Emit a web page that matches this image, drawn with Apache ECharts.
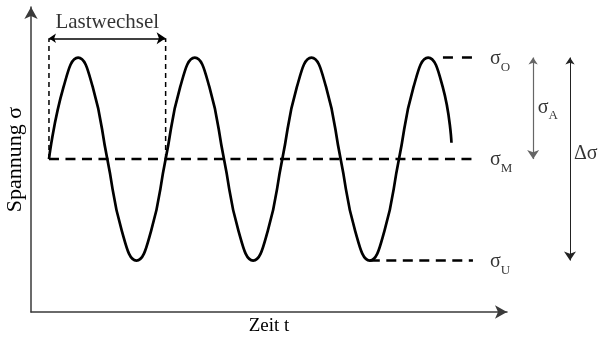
<!DOCTYPE html>
<html>
<head>
<meta charset="utf-8">
<script src="https://cdn.jsdelivr.net/npm/echarts@6/dist/echarts.min.js"></script>
<style>
html,body{margin:0;padding:0;background:#fff;}
#c{width:601px;height:339px;}
</style>
</head>
<body>
<div id="c"></div>
<script>
// Time in load cycles (1 = one Lastwechsel), stress normalised: σ_M = 0, σ_A = 1
const waveT = [0, 0.125, 0.25, 0.375, 0.5, 0.625, 0.75, 0.875,
               1, 1.125, 1.25, 1.375, 1.5, 1.625, 1.75, 1.875,
               2, 2.125, 2.25, 2.375, 2.5, 2.625, 2.75, 2.875,
               3, 3.125, 3.25, 3.375, 3.45];
const waveSigma = [0, 0.71, 1, 0.71, 0, -0.71, -1, -0.71,
                   0, 0.71, 1, 0.71, 0, -0.71, -1, -0.71,
                   0, 0.71, 1, 0.71, 0, -0.71, -1, -0.71,
                   0, 0.71, 1, 0.71, 0.16];
const sigmaO = 1, sigmaM = 0, sigmaU = -1;
const levelLabels = ['O', 'M', 'U'];
const meanLineT = [0, 3.634];
const upperLineT = [3.377, 3.626];
const lowerLineT = [2.75, 3.634];
const cycleBounds = [0, 1];
const bracketSigma = 1.19;
const cycleLabel = 'Lastwechsel';
const cycleLabelPos = [0.5, 1.35];
const ampArrowT = 4.15;
const rangeArrowT = 4.466;
const levelLabelT = 3.78;
const ampLabelPos = [4.19, 0.48];
const rangeLabelPos = [4.5, 0.02];
const xName = 'Zeit t';
const yName = 'Spannung σ';

const FONT = 'Liberation Serif';
const rich = {
  s: {fontFamily: FONT, fontSize: 20, color: '#000', lineHeight: 26, verticalAlign: 'top'},
  sub: {fontFamily: FONT, fontSize: 13, color: '#000', lineHeight: 13, padding: [12, 0, 0, 0], verticalAlign: 'top'}
};

const chart = echarts.init(document.getElementById('c'), null, {renderer: 'canvas'});

const waveData = waveT.map((t, i) => [t, waveSigma[i]]);
const levels = [sigmaO, sigmaM, sigmaU];

const labelData = levels.map((s, i) => ({
  value: [levelLabelT, s - 0.04],
  label: {formatter: '{s|σ}{sub|' + levelLabels[i] + '}'}
}));
labelData.push({value: ampLabelPos, label: {formatter: '{s|σ}{sub|A}'}});
labelData.push({value: rangeLabelPos, label: {formatter: '{s|Δσ}'}});

const dashed = (data, dash, width) => ({
  type: 'line', data: data, symbol: 'none', clip: false, silent: true,
  lineStyle: {color: '#000', width: width, type: dash}, z: 3
});

const arrow = (coords, color, width) => ({
  coords: coords, lineStyle: {color: color, width: width, type: 'solid', opacity: 1}
});

chart.setOption({
  animation: false,
  backgroundColor: '#fff',
  grid: {left: 31, right: 94, top: 7, bottom: 27, outerBoundsMode: 'none', containLabel: false},
  xAxis: {
    type: 'value', min: -0.154, max: 3.926,
    name: xName, nameLocation: 'middle', nameGap: 5,
    nameTextStyle: {fontFamily: FONT, fontSize: 19, color: '#000'},
    axisLine: {show: true, onZero: false, lineStyle: {color: '#3a3a3a', width: 1.5},
      symbol: ['none', 'arrow'], symbolSize: [10, 12]},
    axisTick: {show: false}, axisLabel: {show: false}, splitLine: {show: false}
  },
  yAxis: {
    type: 'value', min: -1.507, max: 1.498,
    name: yName, nameLocation: 'middle', nameGap: 5, nameRotate: 90,
    nameTextStyle: {fontFamily: FONT, fontSize: 22, color: '#000'},
    axisLine: {show: true, onZero: false, lineStyle: {color: '#3a3a3a', width: 1.5},
      symbol: ['none', 'arrow'], symbolSize: [10, 12]},
    axisTick: {show: false}, axisLabel: {show: false}, splitLine: {show: false}
  },
  series: [
    dashed(meanLineT.map(t => [t, sigmaM]), [10, 6.5], 2.5),
    dashed(upperLineT.map(t => [t, sigmaO]), [10, 9], 2.5),
    dashed(lowerLineT.map(t => [t, sigmaU]), [10, 6.5], 2.5),
    dashed([[cycleBounds[0], sigmaM], [cycleBounds[0], bracketSigma]], [5, 4], 1.5),
    dashed([[cycleBounds[1], sigmaM], [cycleBounds[1], bracketSigma]], [5, 4], 1.5),
    {
      type: 'line', data: waveData, smooth: 0.5, symbol: 'none', clip: false, silent: true,
      lineStyle: {color: '#000', width: 2.7}, z: 4
    },
    {
      type: 'lines', coordinateSystem: 'cartesian2d', clip: false, silent: true,
      symbol: ['arrow', 'arrow'], symbolSize: [7, 9], z: 5,
      data: [
        arrow([[cycleBounds[0], bracketSigma], [cycleBounds[1], bracketSigma]], '#000', 1.5),
        arrow([[ampArrowT, sigmaO], [ampArrowT, sigmaM]], '#666', 1.2),
        arrow([[rangeArrowT, sigmaO], [rangeArrowT, sigmaU]], '#222', 1)
      ]
    },
    {
      type: 'scatter', symbolSize: 0, clip: false, silent: true,
      data: labelData,
      label: {show: true, position: 'right', distance: 0, rich: rich}
    },
    {
      type: 'scatter', symbolSize: 0, clip: false, silent: true,
      data: [{value: cycleLabelPos}],
      label: {show: true, position: 'inside', formatter: cycleLabel,
        fontFamily: FONT, fontSize: 21, color: '#000'}
    }
  ]
});
</script>
</body>
</html>
